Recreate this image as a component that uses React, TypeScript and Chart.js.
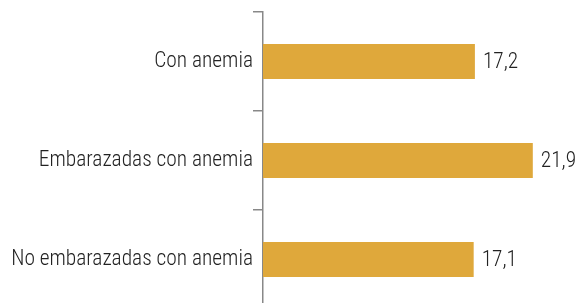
import React, { useEffect, useRef } from "react";
import { Chart, registerables } from "chart.js";

Chart.register(...registerables);

const categories = ["Con anemia", "Embarazadas con anemia", "No embarazadas con anemia"];
const values = [17.2, 21.9, 17.1];
const xMax = 25;

const FONT = "'Roboto Condensed', 'Liberation Sans Narrow', 'DejaVu Sans Condensed', sans-serif";

const valueLabels = {
  id: "valueLabels",
  afterDatasetsDraw(chart: any) {
    const ctx = chart.ctx;
    const meta = chart.getDatasetMeta(0);
    ctx.save();
    ctx.font = `300 21.4px ${FONT}`;
    ctx.fillStyle = "#222";
    ctx.textAlign = "left";
    ctx.textBaseline = "middle";
    meta.data.forEach((bar: any, i: number) => {
      const txt = values[i].toFixed(1).replace(".", ",");
      ctx.fillText(txt, bar.x + 8, bar.y + 1);
    });
    ctx.restore();
  },
};

export default function App() {
  const ref = useRef<HTMLCanvasElement>(null);
  useEffect(() => {
    const chart = new Chart(ref.current!, {
      type: "bar",
      data: {
        labels: categories,
        datasets: [
          {
            data: values,
            backgroundColor: "#DFA83B",
            categoryPercentage: 1,
            barPercentage: 0.354,
          },
        ],
      },
      options: {
        indexAxis: "y",
        responsive: false,
        animation: false,
        layout: { padding: { top: 12, bottom: 3, right: 5, left: 0 } },
        plugins: { legend: { display: false }, tooltip: { enabled: false } },
        scales: {
          x: { display: false, min: 0, max: xMax },
          y: {
            afterFit(scale: any) {
              scale.width = 263;
              scale.paddingTop = 0;
              scale.paddingBottom = 0;
            },
            grid: {
              drawOnChartArea: false,
              drawTicks: true,
              tickLength: 10,
              color: "#888",
              lineWidth: 1.5,
            },
            border: { display: true, color: "#888", width: 1.5 },
            ticks: {
              padding: 0,
              color: "#222",
              font: { family: FONT, size: 21.4, weight: "300" as any },
            },
          },
        },
      },
      plugins: [valueLabels],
    });
    return () => chart.destroy();
  }, []);
  return (
    <div style={{ position: "fixed", left: 0, top: 0, width: 576, height: 303, overflow: "hidden", background: "#fff" }}>
      <canvas ref={ref} width={576} height={312} style={{ display: "block" }} />
    </div>
  );
}
